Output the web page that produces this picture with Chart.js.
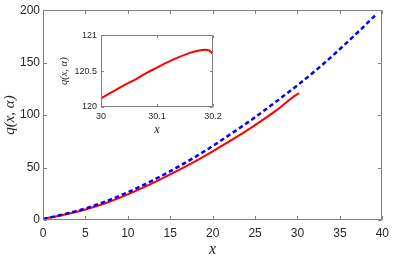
<!DOCTYPE html>
<html><head><meta charset="utf-8">
<script src="https://cdn.jsdelivr.net/npm/chart.js@4"></script>
<style>
html,body{margin:0;padding:0;background:#fff;}
#wrap{position:relative;width:395px;height:258px;overflow:hidden;}
#main{position:absolute;left:0;top:0;}
#inset{position:absolute;left:52px;top:26px;}
</style></head><body>
<div id="wrap"><canvas id="main" width="395" height="258"></canvas><canvas id="inset" width="175" height="116"></canvas></div>
<script>
// ---- data ----
const redX  = [0, 2.5, 5, 7.5, 10, 12.5, 15, 17.5, 20, 22.5, 25, 27.5, 30, 30.2];
const redY  = [1, 5, 10, 16.5, 24.5, 33.5, 43.5, 54, 65.5, 77.5, 90.5, 104.5, 120.1, 120.75];
const blueX = [0, 2.5, 5, 7.5, 10, 12.5, 15, 17.5, 20, 22.5, 25, 27.5, 30, 32.5, 35, 37.5, 39.4];
const blueY = [1, 5.5, 11, 18, 26.5, 36, 46.5, 58, 70.5, 84, 98, 113, 128.5, 145, 163, 182, 197];
const mainXTicks = [0, 5, 10, 15, 20, 25, 30, 35, 40];
const mainYTicks = [0, 50, 100, 150, 200];

const insetX = [30, 30.02, 30.04, 30.06, 30.08, 30.1, 30.12, 30.14, 30.16, 30.175, 30.185, 30.193, 30.2];
const insetY = [120.12, 120.21, 120.3, 120.38, 120.47, 120.55, 120.63, 120.7, 120.76, 120.79, 120.8, 120.79, 120.74];
const insetXTicks = [30, 30.1, 30.2];
const insetXLabels = ['30', '30.1', '30.2'];
const insetYTicks = [120, 120.5, 121];
const insetYLabels = ['120', '120.5', '121'];

const TXT = '#262626', BOX = '#808080';

const boxTicks = {
  id: 'boxTicks',
  afterDatasetsDraw(chart, args, o) {
    const {ctx, chartArea: a, scales: {x, y}} = chart;
    const L = Math.round(a.left) + 0.5, R = Math.round(a.right) - 0.5;
    const T = Math.round(a.top) + 0.5, B = Math.round(a.bottom) - 0.5;
    ctx.save();
    ctx.strokeStyle = o.color; ctx.lineWidth = 1;
    ctx.beginPath();
    x.ticks.forEach(t => {
      const p = Math.round(x.getPixelForValue(t.value)) + 0.5;
      ctx.moveTo(p, B); ctx.lineTo(p, B - o.len);
      ctx.moveTo(p, T); ctx.lineTo(p, T + o.len);
    });
    y.ticks.forEach(t => {
      const p = Math.round(y.getPixelForValue(t.value)) + 0.5;
      ctx.moveTo(L, p); ctx.lineTo(L + o.len, p);
      ctx.moveTo(R, p); ctx.lineTo(R - o.len, p);
    });
    ctx.stroke();
    ctx.strokeRect(L, T, R - L, B - T);
    ctx.restore();
  }
};

const pts = (xs, ys) => xs.map((v, i) => ({x: v, y: ys[i]}));

new Chart(document.getElementById('main'), {
  type: 'line',
  data: {
    datasets: [
      {data: pts(blueX, blueY), borderColor: '#0000ff', borderWidth: 2.5, borderDash: [4.5, 3], pointRadius: 0, cubicInterpolationMode: 'monotone', fill: false},
      {data: pts(redX, redY), borderColor: '#ff0000', borderWidth: 2, pointRadius: 0, cubicInterpolationMode: 'monotone', fill: false}
    ]
  },
  options: {
    responsive: false, animation: false, events: [],
    layout: {padding: {top: 7, right: 7, left: 0, bottom: 0}},
    plugins: {legend: {display: false}, tooltip: {enabled: false}, boxTicks: {color: BOX, len: 3.5}},
    scales: {
      x: {
        type: 'linear', min: 0, max: 40,
        afterBuildTicks: s => { s.ticks = mainXTicks.map(v => ({value: v})); },
        afterFit: s => { s.height = 38; },
        grid: {display: false, drawTicks: false}, border: {display: false},
        ticks: {padding: 6, color: TXT, maxRotation: 0, autoSkip: false, font: {family: 'Liberation Sans', size: 12}},
        title: {display: true, text: 'x', color: TXT, padding: {top: 0, bottom: 0}, font: {family: 'Liberation Serif', style: 'italic', size: 16, lineHeight: 1}}
      },
      y: {
        type: 'linear', min: 0, max: 200,
        afterBuildTicks: s => { s.ticks = mainYTicks.map(v => ({value: v})); },
        afterFit: s => { s.width = 43; },
        grid: {display: false, drawTicks: false}, border: {display: false},
        ticks: {padding: 3, color: TXT, autoSkip: false, font: {family: 'Liberation Sans', size: 12}},
        title: {display: true, text: 'q(x, α)', color: TXT, padding: {top: 1, bottom: 0}, font: {family: 'Liberation Serif', style: 'italic', size: 15, lineHeight: 1.2}}
      }
    }
  },
  plugins: [boxTicks]
});

new Chart(document.getElementById('inset'), {
  type: 'line',
  data: {
    datasets: [
      {data: pts(insetX, insetY), borderColor: '#ff0000', borderWidth: 2, pointRadius: 0, cubicInterpolationMode: 'monotone', fill: false}
    ]
  },
  options: {
    responsive: false, animation: false, events: [],
    layout: {padding: {top: 9, right: 14, left: 0, bottom: 0}},
    plugins: {legend: {display: false}, tooltip: {enabled: false}, boxTicks: {color: BOX, len: 2.5}},
    scales: {
      x: {
        type: 'linear', min: 30, max: 30.2,
        afterBuildTicks: s => { s.ticks = insetXTicks.map(v => ({value: v})); },
        afterFit: s => { s.height = 35; },
        grid: {display: false, drawTicks: false}, border: {display: false},
        ticks: {padding: 4, color: TXT, maxRotation: 0, autoSkip: false, font: {family: 'Liberation Sans', size: 9},
                callback: (v, i) => insetXLabels[i]},
        title: {display: true, text: 'x', color: TXT, padding: {top: 0, bottom: 5}, font: {family: 'Liberation Serif', style: 'italic', size: 12, lineHeight: 1.2}}
      },
      y: {
        type: 'linear', min: 120, max: 121,
        afterBuildTicks: s => { s.ticks = insetYTicks.map(v => ({value: v})); },
        afterFit: s => { s.width = 49; },
        grid: {display: false, drawTicks: false}, border: {display: false},
        ticks: {padding: 4, color: TXT, autoSkip: false, font: {family: 'Liberation Sans', size: 9},
                callback: (v, i) => insetYLabels[i]},
        title: {display: true, text: 'q(x, α)', color: TXT, padding: {top: 6, bottom: 0}, font: {family: 'Liberation Serif', style: 'italic', size: 10.5, lineHeight: 1.2}}
      }
    }
  },
  plugins: [boxTicks]
});
</script>
</body></html>
